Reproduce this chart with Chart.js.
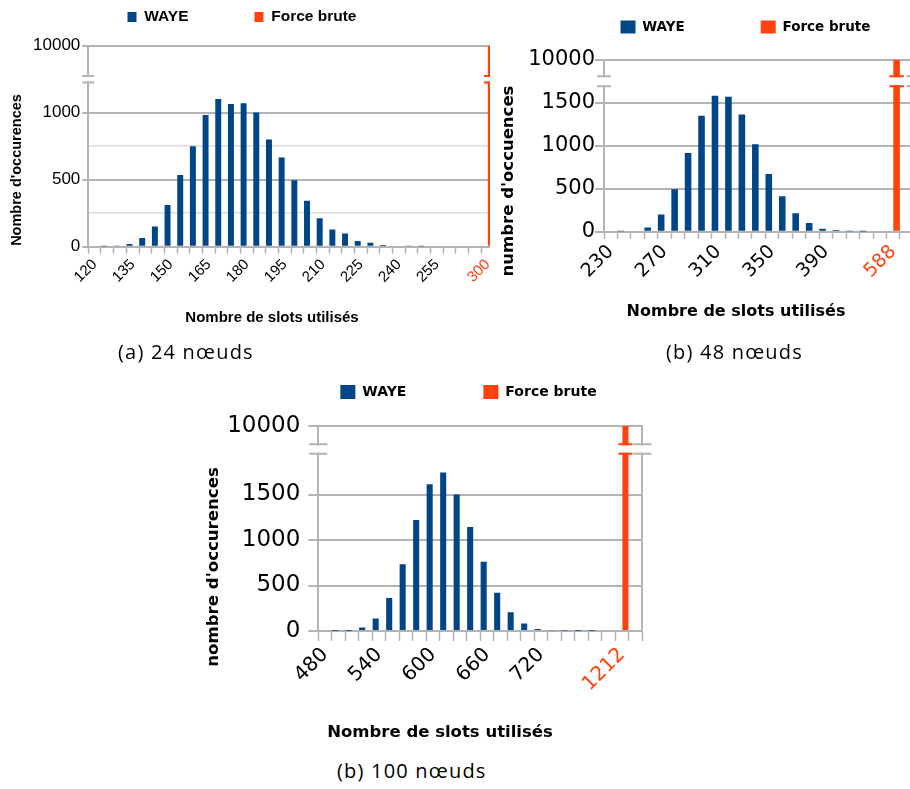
<!DOCTYPE html>
<html>
<head>
<meta charset="utf-8">
<script src="https://cdn.jsdelivr.net/npm/chart.js@4.4.1/dist/chart.umd.min.js"></script>
<style>
  html, body { margin: 0; padding: 0; background: #fff; overflow: hidden; }
  #page { position: relative; width: 910px; height: 789px; overflow: hidden; background: #fff; }
  .clip { position: absolute; overflow: hidden; }
  canvas { position: absolute; }
  .cap { position: absolute; font-family: 'Open Sans', 'Noto Sans', sans-serif; font-size: 20px; letter-spacing: 1.2px; line-height: 24px; color: #000; white-space: nowrap; }
</style>
</head>
<body>
<div id="page">
  <div class="clip" style="left:0;top:0;width:490px;height:340px"><canvas id="cA" style="left:0;top:0"></canvas></div>
  <canvas id="cB" style="left:490px;top:0"></canvas>
  <canvas id="cC" style="left:190px;top:370px"></canvas>
  <div class="cap" style="left:118px;top:340px">(a) 24 nœuds</div>
  <div class="cap" style="left:666px;top:340px">(b) 48 nœuds</div>
  <div class="cap" style="left:337px;top:759px">(b) 100 nœuds</div>
</div>
<script>
const BLUE = '#004586'
const RED = '#ff420e'
const GRID = '#b3b3b3'
const MINOR = '#dddddd'

// (a) 24 noeuds
const catsA = ['120','125','130','135','140','145','150','155','160','165','170','175','180','185','190','195','200','205','210','215','220','225','230','235','240','245','250','255','260','265','270','300','']
const shownA = ['120','135','150','165','180','195','210','225','240','255','300']
const wayeA = [0,3,5,20,65,150,312,535,750,982,1102,1065,1070,1002,800,665,495,342,212,128,98,42,30,13,8,5,3,0,0,0,0,null,null]
const bruteA = [null,null,null,null,null,null,null,null,null,null,null,null,null,null,null,null,null,null,null,null,null,null,null,null,null,null,null,null,null,null,null,10000,null]
const yLabelsA = [0, 500, 1000]
const breakA = 1250

// (b) 48 noeuds
const catsB = ['230','240','250','260','270','280','290','300','310','320','330','340','350','360','370','380','390','400','410','420','430','588','']
const shownB = ['230','270','310','350','390','588']
const wayeB = [0,4,12,50,200,494,914,1347,1580,1568,1362,1016,671,413,214,102,33,20,5,3,0,null,null]
const bruteB = [null,null,null,null,null,null,null,null,null,null,null,null,null,null,null,null,null,null,null,null,null,10000,null]
const yLabelsB = [0, 500, 1000, 1500]
const breakB = 1750

// (b) 100 noeuds
const catsC = ['480','495','510','525','540','555','570','585','600','615','630','645','660','675','690','705','720','735','750','765','780','795','1212','']
const shownC = ['480','540','600','660','720','1212']
const wayeC = [0,2,4,38,137,364,734,1219,1613,1741,1500,1142,760,420,206,82,22,8,5,3,2,0,null,null]
const bruteC = [null,null,null,null,null,null,null,null,null,null,null,null,null,null,null,null,null,null,null,null,null,null,10000,null]
const yLabelsC = [0, 500, 1000, 1500]
const breakC = 2000

const TOP = 10000

function placeLegend(s) {
    return {
        id: 'placeLegend',
        afterLayout(chart) {
            const L = chart.legend
            const w = L.right - L.left
            L.left = s.legCx - w / 2
            L.right = L.left + w
            L.top = s.legCy - Math.max(s.legSize, s.boxH) / 2 - s.legGap
            L.bottom = s.legCy + 20
            L.height = L.bottom - L.top
        }
    }
}

// white gap + little caps where the y axis is broken
function drawBreak(s) {
    return {
        id: 'drawBreak',
        afterDatasetsDraw(chart) {
            const { ctx, chartArea: a } = chart
            const yb = chart.scales.y.top
            const g = s.gap
            const bar = chart.getDatasetMeta(1).data[s.cats.length - 2]
            const { x, width } = bar.getProps(['x', 'width'], true)
            ctx.save()
            ctx.fillStyle = '#fff'
            ctx.fillRect(a.left - 14, yb - g + 1, a.right - a.left + 28, 2 * g - 2)
            ctx.lineWidth = 2
            const caps = (x0, x1, color) => {
                ctx.strokeStyle = color
                ctx.beginPath()
                ctx.moveTo(x0, yb - g); ctx.lineTo(x1, yb - g)
                ctx.moveTo(x0, yb + g); ctx.lineTo(x1, yb + g)
                ctx.stroke()
            }
            caps(a.left - s.capW, a.left + s.capW, GRID)
            caps(a.right - s.capW, a.right + s.capW, GRID)
            caps(x - width / 2 - 4, x + width / 2 + 4, RED)
            ctx.restore()
        }
    }
}

function buildChart(id, s) {
    const canvas = document.getElementById(id)
    canvas.width = s.W
    canvas.height = s.H
    canvas.style.width = s.W + 'px'
    canvas.style.height = s.H + 'px'
    const redIdx = s.cats.length - 2
    const isMajor = ctx => ctx.tick && s.yLabels.includes(ctx.tick.value)
    const yTicks = { padding: s.yTickPad, color: '#000', font: { family: s.family, size: s.yTickSize } }
    return new Chart(canvas, {
        type: 'bar',
        data: {
            labels: s.cats,
            datasets: [
                { label: 'WAYE', data: s.waye, backgroundColor: BLUE, borderWidth: 0, yAxisID: 'y', categoryPercentage: 1, barPercentage: s.barPct },
                // this one runs on through the upper part of the broken axis
                { label: 'Force brute', data: s.brute, backgroundColor: RED, borderWidth: 0, yAxisID: 'y', categoryPercentage: 1, barPercentage: s.barPct,
                  clip: { left: 0, right: 0, bottom: 0, top: s.topH } }
            ]
        },
        options: {
            responsive: false,
            animation: false,
            devicePixelRatio: 1,
            layout: { padding: s.pad },
            plugins: {
                tooltip: { enabled: false },
                legend: {
                    position: 'top',
                    maxHeight: s.legH,
                    labels: {
                        boxWidth: s.boxW, boxHeight: s.boxH, padding: s.legGap, color: '#000',
                        font: { family: s.family, size: s.legSize, weight: 'bold' }
                    }
                },
                title: {
                    display: true, position: 'left', text: s.yTitle, color: '#000',
                    font: { family: s.family, size: s.yTitleSize, weight: 'bold' },
                    padding: { top: s.yTitlePad, bottom: 0 }
                },
                subtitle: {
                    display: true, position: 'bottom', text: 'Nombre de slots utilisés', color: '#000',
                    font: { family: s.family, size: s.xTitleSize, weight: 'bold' },
                    padding: { top: 0, bottom: s.xTitlePad }
                }
            },
            scales: {
                x: {
                    offset: true,
                    grid: { offset: true, drawOnChartArea: false, tickLength: s.xTickLen, tickColor: GRID, tickWidth: 1.5 },
                    border: { color: GRID, width: 2 },
                    ticks: {
                        autoSkip: false, minRotation: 45, maxRotation: 45, padding: s.xTickPad,
                        font: { family: s.family, size: s.xTickSize },
                        color: ctx => ctx.index === redIdx ? RED : '#000',
                        callback: (v, i) => s.shown.includes(s.cats[i]) ? s.cats[i] : ''
                    },
                    afterFit: sc => { sc.height = s.xAxisH }
                },
                yTop: {
                    stack: 'v', stackWeight: s.topH, weight: 2,
                    min: s.brk, max: TOP,
                    afterBuildTicks: sc => { sc.ticks = [{ value: TOP }] },
                    ticks: { ...yTicks, callback: v => String(v) },
                    grid: { color: GRID, lineWidth: 2, tickLength: s.yTickLen, tickColor: GRID },
                    border: { color: GRID, width: 2 },
                    afterFit: sc => { sc.width = s.yAxisW }
                },
                y: {
                    stack: 'v', stackWeight: s.lowH, weight: 1,
                    min: 0, max: s.brk,
                    afterBuildTicks: sc => { sc.ticks = sc.ticks.filter(t => t.value < s.brk) },
                    ticks: { ...yTicks, stepSize: 250, callback: v => s.yLabels.includes(v) ? String(v) : '' },
                    grid: {
                        color: ctx => isMajor(ctx) ? GRID : MINOR,
                        lineWidth: ctx => isMajor(ctx) ? 2 : 1.5,
                        tickLength: s.yTickLen,
                        tickColor: ctx => isMajor(ctx) ? GRID : 'rgba(0,0,0,0)'
                    },
                    border: { color: GRID, width: 2 },
                    afterFit: sc => { sc.width = s.yAxisW }
                },
                yR: {
                    position: 'right', min: 0, max: 1,
                    ticks: { display: false },
                    grid: { drawOnChartArea: false, drawTicks: false },
                    border: { color: GRID, width: 2 },
                    afterFit: sc => { sc.width = s.rightW }
                }
            }
        },
        plugins: [placeLegend(s), drawBreak(s)]
    })
}

buildChart('cA', {
    W: 560, H: 340, pad: { left: 0, right: 16, top: 0, bottom: 0 },
    cats: catsA, shown: shownA, waye: wayeA, brute: bruteA, yLabels: yLabelsA, brk: breakA,
    family: 'Liberation Sans',
    legCx: 242, legCy: 17, legSize: 15.5, boxW: 9, boxH: 10, legGap: 66, legH: 45.7,
    yTitle: "Nombre d'occurences", yTitleSize: 14.5, yTitlePad: 8.3,
    xTitleSize: 15, xTitlePad: 13,
    yAxisW: 62.6, xAxisH: 62.3, rightW: 37.3,
    topH: 33.5, lowH: 167.5,
    yTickSize: 17, yTickLen: 6, yTickPad: 2,
    xTickSize: 15, xTickLen: 7, xTickPad: 2,
    barPct: 0.94, gap: 3.3, capW: 6
})

buildChart('cB', {
    W: 492, H: 340, pad: { left: 0, right: 0, top: 22, bottom: 0 },
    cats: catsB, shown: shownB, waye: wayeB, brute: bruteB, yLabels: yLabelsB, brk: breakB,
    family: 'DejaVu Sans',
    legCx: 255.5, legCy: 27, legSize: 13.5, boxW: 15, boxH: 13, legGap: 76, legH: 38,
    yTitle: "numbre d'occuences", yTitleSize: 16.5, yTitlePad: 9.1,
    xTitleSize: 16, xTitlePad: 18.4,
    yAxisW: 85.1, xAxisH: 70.7, rightW: 68.6,
    topH: 21.2, lowH: 150.5,
    yTickSize: 21, yTickLen: 9, yTickPad: 0,
    xTickSize: 19, xTickLen: 7, xTickPad: 2,
    barPct: 0.98, gap: 5, capW: 7
})

buildChart('cC', {
    W: 500, H: 380, pad: { left: 0, right: 0, top: 14, bottom: 0 },
    cats: catsC, shown: shownC, waye: wayeC, brute: bruteC, yLabels: yLabelsC, brk: breakC,
    family: 'DejaVu Sans',
    legCx: 278.5, legCy: 22, legSize: 14, boxW: 15, boxH: 14, legGap: 77, legH: 42,
    yTitle: "nombre d'occurences", yTitleSize: 16.6, yTitlePad: 14.05,
    xTitleSize: 16.5, xTitlePad: 7.1,
    yAxisW: 94.33, xAxisH: 92.1, rightW: 47.7,
    topH: 23, lowH: 182,
    yTickSize: 23, yTickLen: 10, yTickPad: 8,
    xTickSize: 20, xTickLen: 10, xTickPad: 2,
    barPct: 0.9, gap: 4.8, capW: 9
})
</script>
</body>
</html>
